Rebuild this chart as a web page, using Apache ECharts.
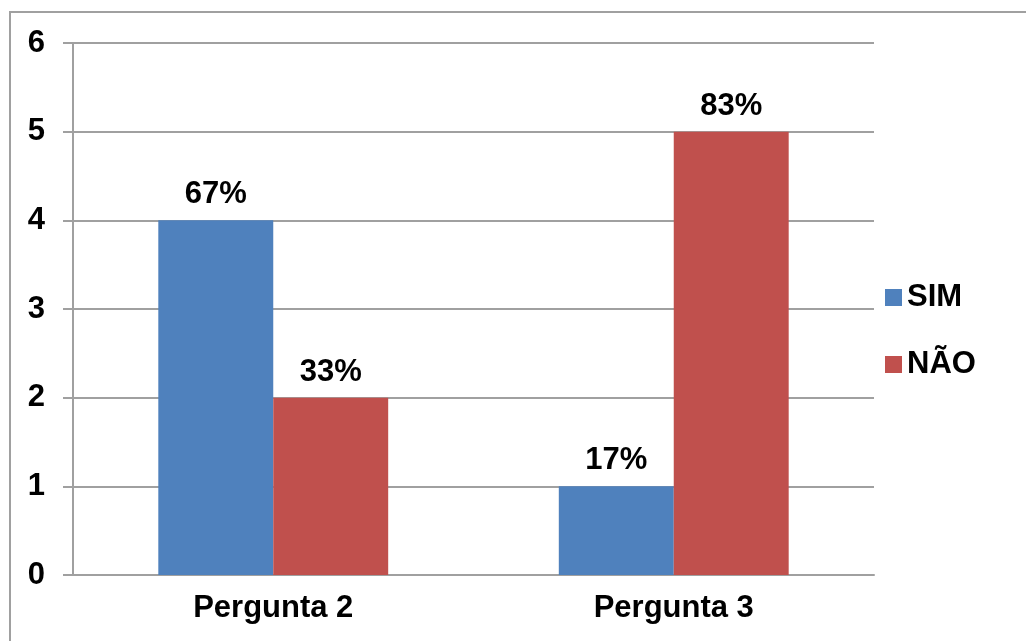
<!DOCTYPE html>
<html>
<head>
<meta charset="utf-8">
<script src="https://cdn.jsdelivr.net/npm/echarts@6/dist/echarts.min.js"></script>
<style>
html,body{margin:0;padding:0;background:#fff;}
#main{width:1026px;height:641px;}
</style>
</head>
<body>
<div id="main"></div>
<script>
var categories = ['Pergunta 2', 'Pergunta 3'];
var simValues = [4, 1];
var naoValues = [2, 5];
var simLabels = ['67%', '17%'];
var naoLabels = ['33%', '83%'];
var yTicks = [0, 1, 2, 3, 4, 5, 6];

var font = 'Liberation Sans, Arial, sans-serif';
var lineColor = '#a0a0a0';

var myChart = echarts.init(document.getElementById('main'));
var option = {
    backgroundColor: '#fff',
    animation: false,
    graphic: [{
        type: 'rect',
        shape: {x: 10, y: 12, width: 1100, height: 700},
        style: {fill: 'none', stroke: lineColor, lineWidth: 2}
    }],
    grid: {left: 73, right: 152, top: 43, bottom: 66},
    legend: {
        orient: 'vertical',
        left: 880,
        top: 277,
        itemWidth: 17,
        itemHeight: 17,
        itemGap: 36,
        icon: 'rect',
        textStyle: {fontFamily: font, fontSize: 31, fontWeight: 'bold', color: '#000'},
        data: ['SIM', 'NÃO']
    },
    xAxis: {
        type: 'category',
        data: categories,
        axisLine: {lineStyle: {color: lineColor, width: 2}},
        axisTick: {length: 8, lineStyle: {color: lineColor, width: 2}},
        axisLabel: {fontFamily: font, fontSize: 31, fontWeight: 'bold', color: '#000', margin: 18}
    },
    yAxis: {
        type: 'value',
        min: yTicks[0],
        max: yTicks[yTicks.length - 1],
        interval: 1,
        axisLine: {show: true, lineStyle: {color: lineColor, width: 2}},
        axisTick: {show: true, length: 10, lineStyle: {color: lineColor, width: 2}},
        splitLine: {lineStyle: {color: lineColor, width: 2}},
        axisLabel: {fontFamily: font, fontSize: 31, fontWeight: 'bold', color: '#000', margin: 28}
    },
    series: [
        {
            name: 'SIM',
            type: 'bar',
            data: simValues,
            barWidth: '28.7%',
            barGap: 0,
            itemStyle: {color: '#4f81bd'},
            label: {
                show: true, position: 'top', distance: 10,
                fontFamily: font, fontSize: 31, fontWeight: 'bold', color: '#000',
                formatter: function (p) { return simLabels[p.dataIndex]; }
            }
        },
        {
            name: 'NÃO',
            type: 'bar',
            data: naoValues,
            barWidth: '28.7%',
            barGap: 0,
            itemStyle: {color: '#c0504d'},
            label: {
                show: true, position: 'top', distance: 10,
                fontFamily: font, fontSize: 31, fontWeight: 'bold', color: '#000',
                formatter: function (p) { return naoLabels[p.dataIndex]; }
            }
        }
    ]
};
myChart.setOption(option);
</script>
</body>
</html>
